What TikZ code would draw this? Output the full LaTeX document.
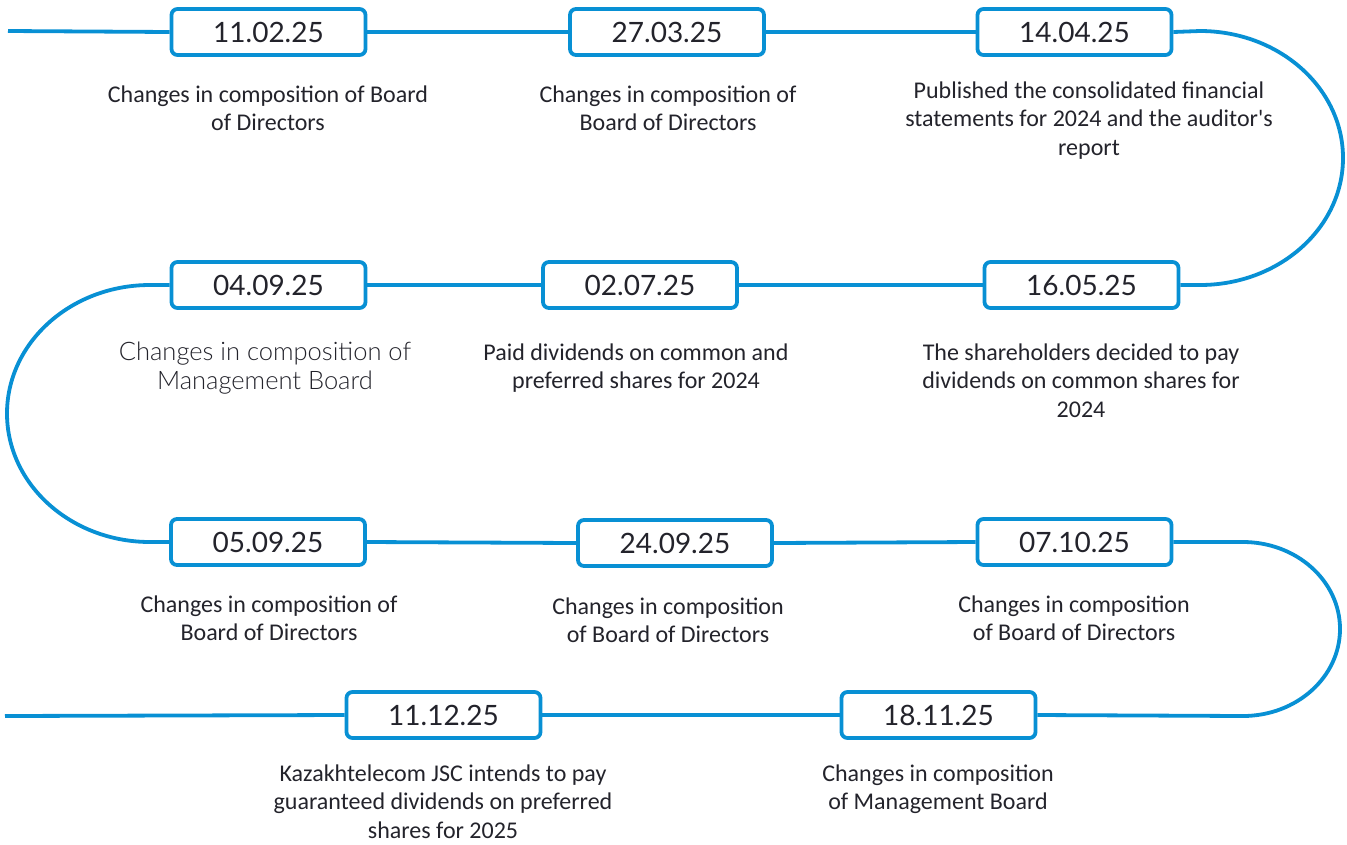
\documentclass[tikz,border=0pt]{standalone}
\usepackage{fontspec}
\setmainfont{Carlito}
\newfontfamily\datefont{Lato}
\newfontfamily\lightfont{Lato Light}
\begin{document}
\begin{tikzpicture}[x=1pt,y=1pt,
  tl/.style={draw=kblue, line width=3.8pt},
  datebox/.style={draw=kblue, line width=3.8pt, fill=white, rounded corners=6pt,
    minimum width=194pt, minimum height=46pt, inner sep=0pt,
    font=\datefont\fontsize{28}{30}\selectfont, text=ktext},
  desc/.style={align=center, anchor=base, inner sep=0pt, text=ktext,
    font=\fontsize{24}{28.5}\selectfont},
  descl/.style={align=center, anchor=base, inner sep=0pt, text=ktext,
    font=\lightfont\fontsize{25.5}{29}\selectfont}]
\definecolor{kblue}{HTML}{0890D4}
\definecolor{ktext}{HTML}{23232B}
\useasboundingbox (0,0) rectangle (1347,-844);

% boxes
\node[datebox] (b1) at (268.5,-32) {11.02.25};
\node[datebox] (b2) at (667,-32) {27.03.25};
\node[datebox] (b3) at (1074.5,-32) {14.04.25};
\node[datebox] (b4) at (1081.5,-285) {16.05.25};
\node[datebox] (b5) at (640,-285) {02.07.25};
\node[datebox] (b6) at (268.5,-285) {04.09.25};
\node[datebox] (b7) at (268,-542) {05.09.25};
\node[datebox] (b8) at (675,-543) {24.09.25};
\node[datebox] (b9) at (1074.5,-542) {07.10.25};
\node[datebox] (b10) at (938.5,-715) {18.11.25};
\node[datebox] (b11) at (443.5,-715) {11.12.25};

% path coordinates
\coordinate (s0) at (8,-31);
\coordinate (r1) at (1200,-31);
\coordinate (l1) at (150,-285);
\coordinate (r2) at (1243,-542);
\coordinate (e0) at (5,-716);

\draw[tl] (s0) -- (b1.west);
\draw[tl] (b1.east) -- (b2.west);
\draw[tl] (b2.east) -- (b3.west);
\draw[tl] (b3.east) -- (r1) arc[start angle=90, end angle=-90, x radius=143, y radius=127] -- (b4.east);
\draw[tl] (b4.west) -- (b5.east);
\draw[tl] (b5.west) -- (b6.east);
\draw[tl] (b6.west) -- (l1) arc[start angle=90, end angle=270, x radius=143, y radius=128.5] -- (b7.west);
\draw[tl] (b7.east) -- (b8.west);
\draw[tl] (b8.east) -- (b9.west);
\draw[tl] (b9.east) -- (r2) arc[start angle=90, end angle=-90, x radius=97, y radius=87] -- (b10.east);
\draw[tl] (b10.west) -- (b11.east);
\draw[tl] (b11.west) -- (e0);

% descriptions (anchor = baseline of last line)
\node[desc] (d1) at (268,-130.5) {Changes in composition of Board\\of Directors};
\node[desc] (d2) at (668,-130.5) {Changes in composition of\\Board of Directors};
\node[desc] (d3) at (1089,-155) {Published the consolidated financial\\statements for 2024 and the auditor\textquotesingle s\\report};
\node[descl] (d6) at (265,-389) {Changes in composition of\\Management Board};
\node[desc] (d5) at (636,-388.5) {Paid dividends on common and\\preferred shares for 2024};
\node[desc] (d4) at (1081,-417) {The shareholders decided to pay\\dividends on common shares for\\2024};
\node[desc] (d7) at (269,-640.5) {Changes in composition of\\Board of Directors};
\node[desc] (d8) at (668,-642.5) {Changes in composition\\of Board of Directors};
\node[desc] (d9) at (1074,-640.5) {Changes in composition\\of Board of Directors};
\node[desc] (d10) at (938,-809.5) {Changes in composition\\of Management Board};
\node[desc] (d11) at (443,-838) {Kazakhtelecom JSC intends to pay\\guaranteed dividends on preferred\\shares for 2025};
\end{tikzpicture}
\end{document}
